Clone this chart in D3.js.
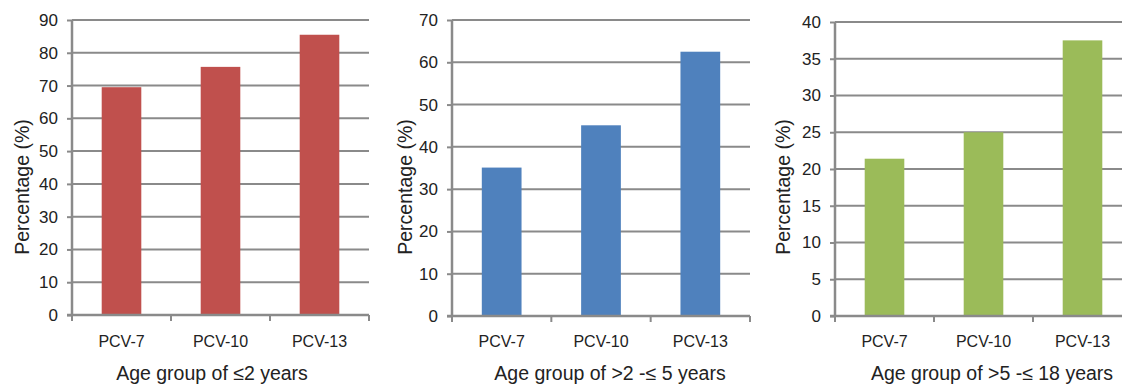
<!DOCTYPE html>
<html><head><meta charset="utf-8">
<script src="https://cdn.jsdelivr.net/npm/d3@7"></script>
<style>body{margin:0;background:#fff}svg{display:block}text{font-family:"Liberation Sans",Arial,sans-serif;fill:#222}</style>
</head><body>
<svg id="c" width="1122" height="384"></svg>
<script>
const categories = ["PCV-7", "PCV-10", "PCV-13"];
const valuesLe2 = [69.5, 75.7, 85.5];
const values2to5 = [35.1, 45.1, 62.5];
const values5to18 = [21.4, 25.0, 37.5];
const yMaxes = [90, 70, 40];
const yStep = [10, 10, 5];
const xTitles = ["Age group of \u22642 years", "Age group of >2 -\u2264 5 years", "Age group of >5 -\u2264 18 years"];
const yTitle = "Percentage (%)";
const colors = ["#C0504D", "#4F81BD", "#9BBB59"];

const panels = [
  {vals: valuesLe2, x0: 72, x1: 369, top: 20, bottom: 315, ylab: 22, title: 212},
  {vals: values2to5, x0: 452, x1: 750, top: 20, bottom: 316, ylab: 405, title: 610},
  {vals: values5to18, x0: 835, x1: 1132, top: 22, bottom: 316, ylab: 783, title: 992}
];
const svg = d3.select("#c");
const grid = "#8a8a8a";
const font = '"Liberation Sans",Arial,sans-serif';
panels.forEach((p, i) => {
  const g = svg.append("g");
  const x = d3.scaleBand().domain(categories).range([p.x0, p.x1]).paddingInner(0.6).paddingOuter(0.3);
  const y = d3.scaleLinear().domain([0, yMaxes[i]]).range([p.bottom, p.top]);
  const ticks = d3.range(0, yMaxes[i] + 0.001, yStep[i]);
  g.selectAll("line.grid").data(ticks.filter(t => t > 0)).join("line")
    .attr("x1", p.x0).attr("x2", p.x1).attr("y1", d => y(d)).attr("y2", d => y(d))
    .attr("stroke", grid).attr("stroke-width", 2);
  g.selectAll("rect").data(p.vals).join("rect")
    .attr("x", (d, j) => x(categories[j])).attr("width", x.bandwidth())
    .attr("y", d => y(d)).attr("height", d => y(0) - y(d))
    .attr("fill", colors[i]);
  const ya = d3.axisLeft(y).tickValues(ticks).tickSize(5).tickPadding(9).tickFormat(d3.format("d"));
  const yg = g.append("g").attr("transform", `translate(${p.x0},0)`).call(ya);
  yg.select(".domain").attr("stroke", grid).attr("stroke-width", 2.5).attr("d", `M0,${p.top}V${p.bottom}`);
  yg.selectAll(".tick line").attr("stroke", grid).attr("stroke-width", 2);
  yg.selectAll(".tick text").attr("font-size", 17).attr("fill", "#222").style("font-family", font);
  g.append("line").attr("x1", p.x0 - 5).attr("x2", p.x1).attr("y1", p.bottom).attr("y2", p.bottom)
    .attr("stroke", grid).attr("stroke-width", 2.5);
  const step = (p.x1 - p.x0) / categories.length;
  g.selectAll("line.xt").data(d3.range(categories.length + 1)).join("line")
    .attr("x1", k => p.x0 + k * step).attr("x2", k => p.x0 + k * step)
    .attr("y1", p.bottom).attr("y2", p.bottom + 6).attr("stroke", grid).attr("stroke-width", 2);
  g.selectAll("text.xl").data(categories).join("text")
    .attr("x", d => x(d) + x.bandwidth() / 2).attr("y", 347)
    .attr("text-anchor", "middle").attr("font-size", 16).text(d => d);
  g.append("text").attr("x", p.title).attr("y", 380).attr("text-anchor", "middle")
    .attr("font-size", 19.5).text(xTitles[i]);
  g.append("text").attr("transform", `translate(${p.ylab + 7},187) rotate(-90)`)
    .attr("text-anchor", "middle").attr("font-size", 19.5).text(yTitle);
});
</script>
</body></html>
